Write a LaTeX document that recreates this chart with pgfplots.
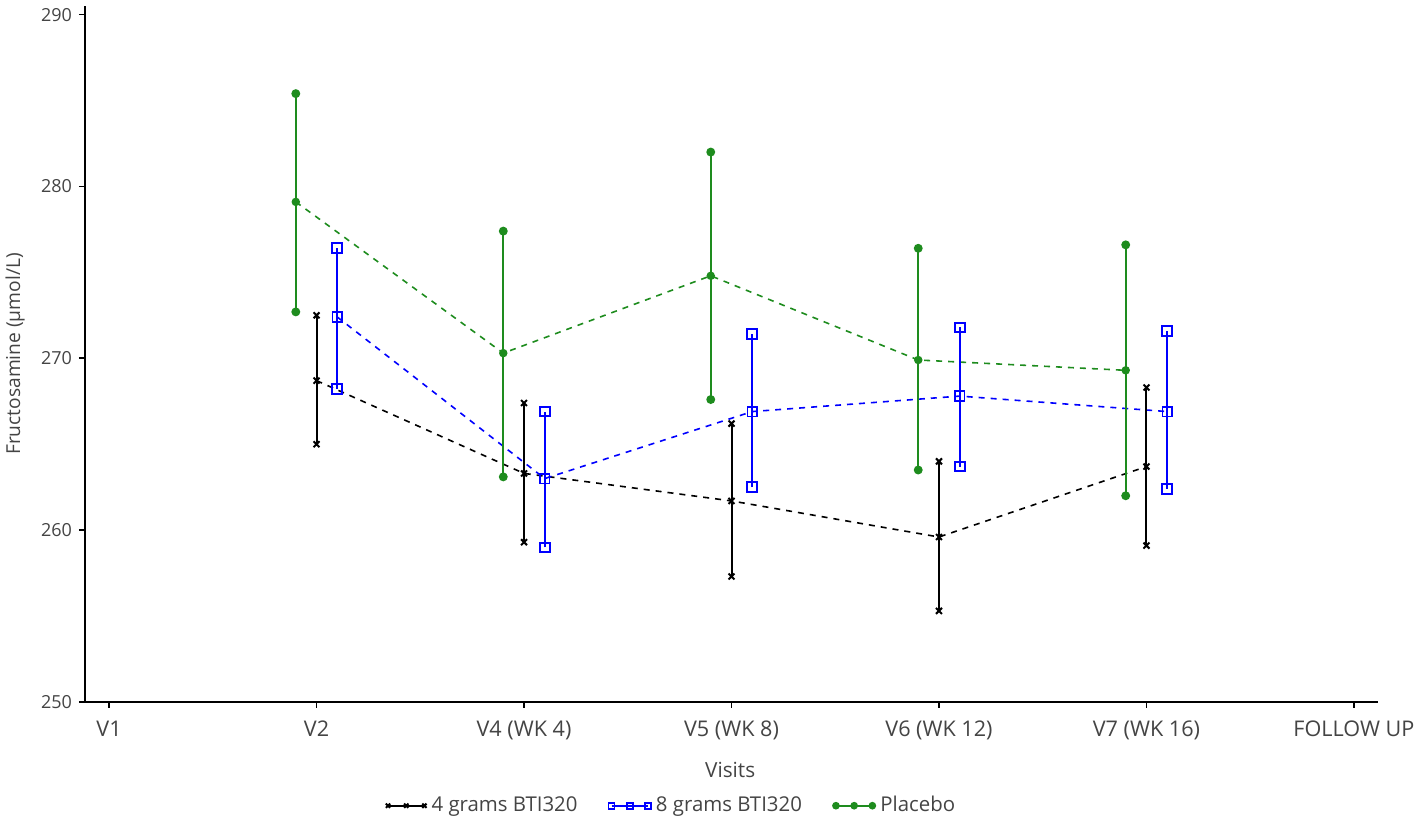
\documentclass[border=0pt]{standalone}
\usepackage{pgfplots}
\pgfplotsset{compat=1.18}
\usepackage{fontspec}
\setmainfont{Open Sans}
\definecolor{pgreen}{HTML}{1E8C1E}
\definecolor{pblue}{HTML}{0000FF}
\definecolor{txt}{HTML}{444444}
\begin{document}
\begin{tikzpicture}
\begin{axis}[
  scale only axis,
  width=646.5pt, height=348pt,
  xmin=-0.116, xmax=6.116,
  ymin=250, ymax=290.5,
  axis lines=left,
  axis line style={-, line width=0.9pt, black},
  tick align=outside,
  major tick length=3pt,
  tick style={line width=0.8pt, black},
  xtick={0,1,2,3,4,5,6},
  xticklabels={V1, V2, V4 (WK 4), V5 (WK 8), V6 (WK 12), V7 (WK 16), FOLLOW UP},
  ytick={250,260,270,280,290},
  /pgf/number format/assume math mode=true,
  xticklabel style={font=\fontsize{10.8}{12}\selectfont, text=txt, yshift=-3pt},
  yticklabel style={font=\fontsize{9}{11}\selectfont, text=txt},
  xlabel={Visits},
  ylabel={Fructosamine (µmol/L)},
  xlabel style={font=\fontsize{10.4}{12}\selectfont, text=txt, at={(axis description cs:0.499,-0.098)}, anchor=center},
  ylabel style={font=\fontsize{9.6}{11}\selectfont, text=txt, at={(axis description cs:-0.054,0.5)}, anchor=center, rotate=0},
  unbounded coords=jump,
  clip=false,
  legend style={draw=none, fill=none, at={(axis description cs:0.454,-0.149)}, anchor=center,
    font=\fontsize{10.2}{12}\selectfont, text=txt, column sep=1pt,
    /tikz/every even column/.append style={column sep=14pt},
    nodes={inner sep=1.5pt}},
  legend columns=3,
  legend image code/.code={\draw[#1, solid, line width=0.8pt, mark repeat=1, mark size=1.5pt] plot coordinates {(0cm,0cm) (0.32cm,0cm) (0.64cm,0cm)};},
]
% ---- 4 grams BTI320 (black) ----
\addplot[black, line width=0.8pt, dashed, dash pattern=on 3pt off 3pt, mark=x, mark size=2.1pt, mark options={solid, line width=1pt}]
  coordinates {(1,268.7) (2,263.3) (3,261.7) (4,259.6) (5,263.7)};
\addlegendentry{4 grams BTI320}
% ---- 8 grams BTI320 (blue) ----
\addplot[pblue, line width=0.8pt, dashed, dash pattern=on 3pt off 3pt, mark=square, mark size=2.4pt, mark options={solid}]
  coordinates {(1.1,272.4) (2.1,263.0) (3.1,266.9) (4.1,267.8) (5.1,266.9)};
\addlegendentry{8 grams BTI320}
% ---- Placebo (green) ----
\addplot[pgreen, line width=0.8pt, dashed, dash pattern=on 3pt off 3pt, mark=*, mark size=1.7pt, mark options={solid}]
  coordinates {(0.9,279.1) (1.9,270.3) (2.9,274.8) (3.9,269.9) (4.9,269.3)};
\addlegendentry{Placebo}
% ---- error bars ----
\addplot[black, line width=1pt, mark=x, mark size=2.1pt, forget plot]
  coordinates {(1,265.0) (1,272.5) (1,nan)
               (2,259.3) (2,267.4) (2,nan)
               (3,257.3) (3,266.2) (3,nan)
               (4,255.3) (4,264.0) (4,nan)
               (5,259.1) (5,268.3)};
\addplot[pblue, line width=1pt, mark=square, mark size=2.4pt, forget plot]
  coordinates {(1.1,268.2) (1.1,276.4) (1.1,nan)
               (2.1,259.0) (2.1,266.9) (2.1,nan)
               (3.1,262.5) (3.1,271.4) (3.1,nan)
               (4.1,263.7) (4.1,271.8) (4.1,nan)
               (5.1,262.4) (5.1,271.6)};
\addplot[pgreen, line width=1pt, mark=*, mark size=1.7pt, forget plot]
  coordinates {(0.9,272.7) (0.9,285.4) (0.9,nan)
               (1.9,263.1) (1.9,277.4) (1.9,nan)
               (2.9,267.6) (2.9,282.0) (2.9,nan)
               (3.9,263.5) (3.9,276.4) (3.9,nan)
               (4.9,262.0) (4.9,276.6)};
\end{axis}
\pgfresetboundingbox
\useasboundingbox ([xshift=-42.5pt, yshift=-60.5pt]current axis.south west) rectangle ++(709pt,411.5pt);
\end{tikzpicture}
\end{document}
